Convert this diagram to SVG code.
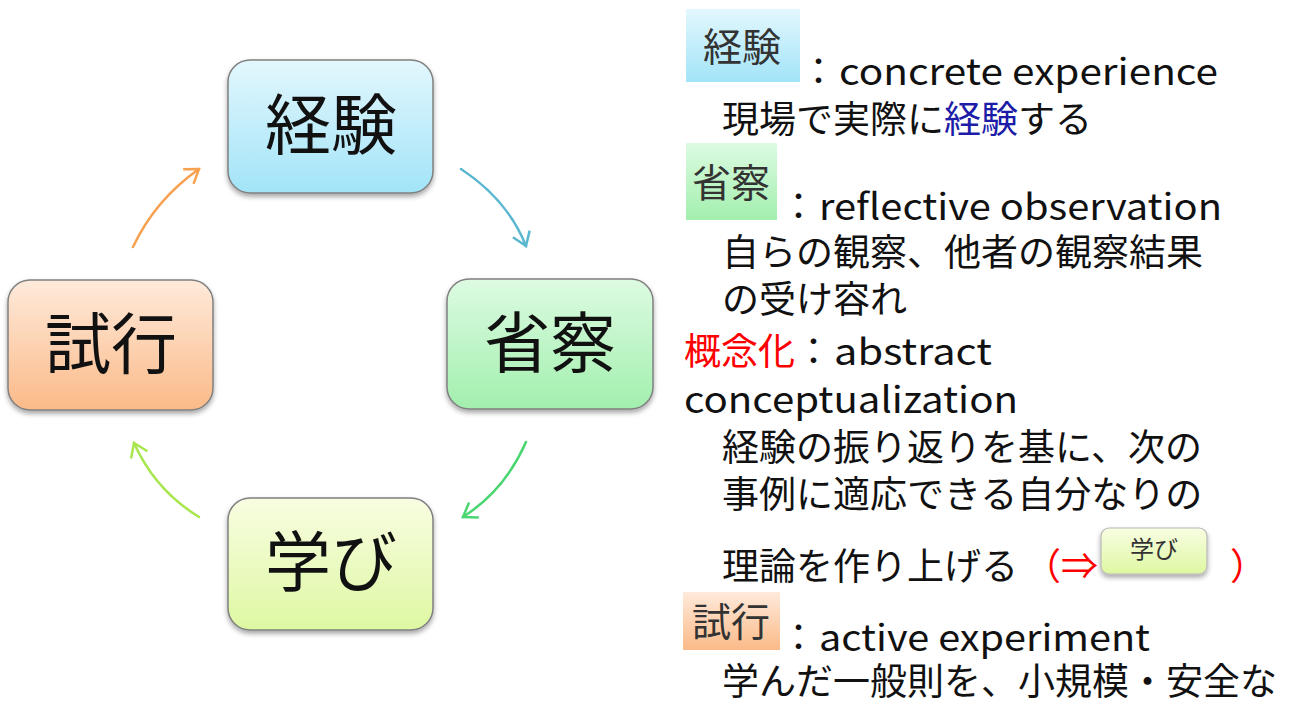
<svg xmlns="http://www.w3.org/2000/svg" width="1293" height="704" viewBox="0 0 1293 704">
<style>
.jp{font-family:"Noto Sans CJK JP","Noto Sans",sans-serif;}
.big{font-size:66px;fill:#111;text-anchor:middle;}
.body{font-size:37px;fill:#111;}
.lat{font-size:36px;fill:#111;}
.red{fill:#ff0000;}
.blue{fill:#1c1ca8;}
.lbl{font-size:39px;fill:#333;text-anchor:middle;}
.box{stroke:#808080;stroke-width:1.5;filter:url(#sh);}
.arr{fill:none;stroke-width:2.5;stroke-linecap:round;}
</style>
<defs>
<filter id="sh" x="-10%" y="-10%" width="120%" height="130%"><feDropShadow dx="0" dy="3" stdDeviation="2.5" flood-color="#000" flood-opacity="0.35"/></filter>
<linearGradient id="gBlue" x1="0" y1="0" x2="0" y2="1"><stop offset="0" stop-color="#e3f7fd"/><stop offset="1" stop-color="#a2e4f8"/></linearGradient>
<linearGradient id="gOrange" x1="0" y1="0" x2="0" y2="1"><stop offset="0" stop-color="#feeadb"/><stop offset="1" stop-color="#fbba88"/></linearGradient>
<linearGradient id="gGreen" x1="0" y1="0" x2="0" y2="1"><stop offset="0" stop-color="#ddfbe2"/><stop offset="1" stop-color="#a2efae"/></linearGradient>
<linearGradient id="gLime" x1="0" y1="0" x2="0" y2="1"><stop offset="0" stop-color="#f8fde2"/><stop offset="1" stop-color="#def8a2"/></linearGradient>
<marker id="mO" viewBox="0 0 10 10" refX="9" refY="5" markerWidth="10" markerHeight="10" markerUnits="userSpaceOnUse" orient="auto" overflow="visible"><path d="M-4,-4 L9,5 L-4,14" fill="none" stroke="#f7a050" stroke-width="2.5"/></marker>
<marker id="mB" viewBox="0 0 10 10" refX="9" refY="5" markerWidth="10" markerHeight="10" markerUnits="userSpaceOnUse" orient="auto" overflow="visible"><path d="M-4,-4 L9,5 L-4,14" fill="none" stroke="#5ab7d0" stroke-width="2.5"/></marker>
<marker id="mG" viewBox="0 0 10 10" refX="9" refY="5" markerWidth="10" markerHeight="10" markerUnits="userSpaceOnUse" orient="auto" overflow="visible"><path d="M-4,-4 L9,5 L-4,14" fill="none" stroke="#4cd672" stroke-width="2.5"/></marker>
<marker id="mL" viewBox="0 0 10 10" refX="9" refY="5" markerWidth="10" markerHeight="10" markerUnits="userSpaceOnUse" orient="auto" overflow="visible"><path d="M-4,-4 L9,5 L-4,14" fill="none" stroke="#a8e64e" stroke-width="2.5"/></marker>
</defs>
<rect width="1293" height="704" fill="#fff"/>

<g id="connectors">
<path class="arr" d="M133,247 Q155,200 199,169" stroke="#f7a050" marker-end="url(#mO)"/>
<path class="arr" d="M461,169 Q508,200 526,246" stroke="#5ab7d0" marker-end="url(#mB)"/>
<path class="arr" d="M526,442 Q505,490 463,517" stroke="#4cd672" marker-end="url(#mG)"/>
<path class="arr" d="M199,517 Q155,490 134,443" stroke="#a8e64e" marker-end="url(#mL)"/>
</g>

<g id="node-keiken">
<rect class="box" x="228" y="60" width="205" height="133" rx="22" fill="url(#gBlue)"/>
<text class="jp big" x="331" y="149">経験</text>
</g>
<g id="node-shousatsu">
<rect class="box" x="447" y="279" width="206" height="130" rx="22" fill="url(#gGreen)"/>
<text class="jp big" x="550" y="367">省察</text>
</g>
<g id="node-manabi">
<rect class="box" x="228" y="498" width="205" height="132" rx="22" fill="url(#gLime)"/>
<text class="jp big" x="331" y="586">学び</text>
</g>
<g id="node-shikou">
<rect class="box" x="8" y="280" width="205" height="130" rx="22" fill="url(#gOrange)"/>
<text class="jp big" x="111" y="368">試行</text>
</g>

<g id="legend">
<rect x="686" y="9" width="114" height="73" fill="url(#gBlue)"/>
<text class="jp lbl" x="742" y="61">経験</text>
<text class="jp body" x="800" y="85">：</text>
<text class="jp lat" x="839" y="85" textLength="379" lengthAdjust="spacingAndGlyphs">concrete experience</text>
<text class="jp body" x="722" y="133">現場で実際に<tspan class="blue">経験</tspan>する</text>

<rect x="686" y="143" width="91" height="77" fill="url(#gGreen)"/>
<text class="jp lbl" x="731" y="197">省察</text>
<text class="jp body" x="780" y="220">：</text>
<text class="jp lat" x="819" y="220" textLength="403" lengthAdjust="spacingAndGlyphs">reflective observation</text>
<text class="jp body" x="722" y="266">自らの観察、他者の観察結果</text>
<text class="jp body" x="722" y="313">の受け容れ</text>

<text class="jp body red" x="684" y="365">概念化</text>
<text class="jp body" x="795" y="365">：</text>
<text class="jp lat" x="834" y="365" textLength="158" lengthAdjust="spacingAndGlyphs">abstract</text>
<text class="jp lat" x="684" y="413" textLength="334" lengthAdjust="spacingAndGlyphs">conceptualization</text>
<text class="jp body" x="722" y="461">経験の振り返りを基に、次の</text>
<text class="jp body" x="722" y="508">事例に適応できる自分なりの</text>
<text class="jp body" x="722" y="580">理論を作り上げる</text>
<text class="jp body red" x="1024" y="580">（⇒</text>
<g id="mini-manabi">
<rect x="1101" y="528" width="106" height="46" rx="8" fill="url(#gLime)" stroke="#b8b8b8" stroke-width="1.2" filter="url(#sh)"/>
<text class="jp" x="1154" y="558" font-size="24" fill="#333" text-anchor="middle">学び</text>
</g>
<text class="jp body red" x="1230" y="580">）</text>

<rect x="683" y="592" width="97" height="58" fill="url(#gOrange)"/>
<text class="jp lbl" x="731" y="636">試行</text>
<text class="jp body" x="780" y="651">：</text>
<text class="jp lat" x="819" y="651" textLength="331" lengthAdjust="spacingAndGlyphs">active experiment</text>
<text class="jp body" x="722" y="695">学んだ一般則を、小規模・安全な</text>
</g>
</svg>
